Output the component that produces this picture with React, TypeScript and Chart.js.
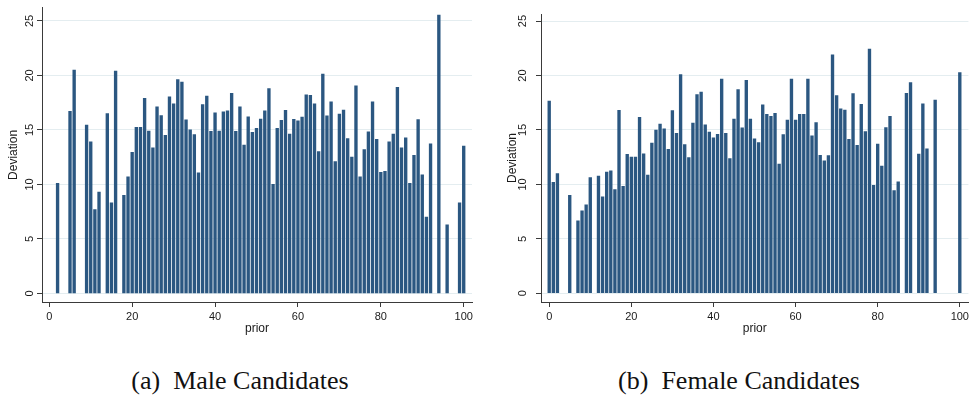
import React, { useEffect, useRef } from 'react';
import { Chart, registerables } from 'chart.js';

Chart.register(...registerables);

// ---- data ----
const maleX = [2, 5, 6, 9, 10, 11, 12, 14, 15, 16, 18, 19, 20, 21, 22, 23, 24, 25, 26, 27, 28, 29, 30, 31, 32, 33, 34, 35, 36, 37, 38, 39, 40, 41, 42, 43, 44, 45, 46, 47, 48, 49, 50, 51, 52, 53, 54, 55, 56, 57, 58, 59, 60, 61, 62, 63, 64, 65, 66, 67, 68, 69, 70, 71, 72, 73, 74, 75, 76, 77, 78, 79, 80, 81, 82, 83, 84, 85, 86, 87, 88, 89, 90, 91, 92, 94, 96, 99, 100];
const maleY = [10.1, 16.7, 20.5, 15.45, 13.9, 7.7, 9.3, 16.5, 8.3, 20.4, 9.0, 10.7, 12.95, 15.25, 15.25, 17.9, 14.9, 13.37, 17.13, 16.32, 14.5, 18.05, 17.4, 19.62, 19.4, 15.93, 15.02, 14.58, 11.06, 17.32, 18.1, 14.88, 16.58, 14.9, 16.67, 16.75, 18.35, 14.88, 17.12, 13.62, 16.2, 14.77, 15.15, 16.0, 16.75, 18.8, 10.0, 15.15, 15.88, 16.8, 14.62, 15.98, 15.83, 16.18, 18.22, 18.18, 17.4, 13.02, 20.12, 16.3, 17.57, 12.1, 16.45, 16.82, 14.2, 12.5, 19.06, 10.7, 13.2, 14.82, 17.58, 14.15, 11.1, 11.2, 13.9, 14.62, 18.9, 13.37, 14.28, 10.1, 12.68, 15.95, 10.87, 7.0, 13.72, 25.55, 6.3, 8.3, 13.52];

const femaleX = [0, 1, 2, 5, 7, 8, 9, 10, 12, 13, 14, 15, 16, 17, 18, 19, 20, 21, 22, 23, 24, 25, 26, 27, 28, 29, 30, 31, 32, 33, 34, 35, 36, 37, 38, 39, 40, 41, 42, 43, 44, 45, 46, 47, 48, 49, 50, 51, 52, 53, 54, 55, 56, 57, 58, 59, 60, 61, 62, 63, 64, 65, 66, 67, 68, 69, 70, 71, 72, 73, 74, 75, 76, 77, 78, 79, 80, 81, 82, 83, 84, 85, 87, 88, 90, 91, 92, 94, 100];
const femaleY = [17.66, 10.18, 11.0, 9.0, 6.65, 7.57, 8.13, 10.62, 10.77, 8.87, 11.13, 11.25, 9.53, 16.8, 9.82, 12.76, 12.52, 12.52, 16.17, 12.8, 10.86, 13.8, 14.98, 15.55, 15.1, 13.23, 16.77, 14.7, 20.09, 13.65, 12.46, 15.64, 18.25, 18.49, 15.46, 14.8, 14.27, 14.6, 19.67, 14.69, 12.37, 16.0, 18.72, 15.19, 19.55, 16.0, 14.18, 13.83, 17.3, 16.44, 16.26, 16.53, 11.87, 14.57, 15.9, 19.67, 15.9, 16.44, 16.44, 19.67, 14.45, 15.67, 12.67, 12.17, 12.64, 21.9, 18.16, 16.94, 16.82, 14.15, 18.34, 13.59, 17.36, 14.84, 22.43, 9.91, 13.71, 11.69, 15.22, 16.26, 9.44, 10.24, 18.37, 19.35, 12.79, 17.39, 13.26, 17.74, 20.27];

const xTicks = [0, 20, 40, 60, 80, 100];
const yTicks = [0, 5, 10, 15, 20, 25];
const xTitle = 'prior';
const yTitle = 'Deviation';
const captionA = '(a)\u2002Male Candidates';
const captionB = '(b)\u2002Female Candidates';

// ---- styles ----
const BAR = '#2b5781';
const AXIS = '#3a3a3a';
const GRID = '#e4edf0';
const TXT = '#1a1a1a';
const SANS = "'Liberation Sans', Arial, sans-serif";

type Cfg = {
  left: number; width: number; height: number;
  pad: { left: number; right: number; top: number; bottom: number };
  yWidth: number; xHeight: number;
  xMin: number; xMax: number; yMin: number; yMax: number;
  yTickPad: number; yTitlePadTop: number;
};

function BarPanel({ xs, ys, cfg }: { xs: number[]; ys: number[]; cfg: Cfg }) {
  const ref = useRef<HTMLCanvasElement>(null);
  useEffect(() => {
    const chart = new Chart(ref.current as HTMLCanvasElement, {
      type: 'bar',
      data: {
        datasets: [{
          data: xs.map((x, i) => ({ x, y: ys[i] })),
          backgroundColor: BAR,
          borderWidth: 0,
          barThickness: 2.7,
        } as any],
      },
      options: {
        animation: false,
        responsive: false,
        events: [],
        layout: { padding: cfg.pad },
        plugins: { legend: { display: false }, tooltip: { enabled: false } },
        scales: {
          x: {
            type: 'linear',
            min: cfg.xMin,
            max: cfg.xMax,
            offset: false,
            afterBuildTicks: (s: any) => { s.ticks = xTicks.map((v) => ({ value: v })); },
            afterFit: (s: any) => { s.height = cfg.xHeight; },
            grid: { display: true, drawOnChartArea: false, drawTicks: true, tickLength: 5, tickColor: AXIS, offset: false },
            border: { display: true, color: AXIS, width: 1 },
            ticks: { font: { family: SANS, size: 11 }, color: TXT, padding: 3, maxRotation: 0, autoSkip: false },
            title: { display: true, text: xTitle, font: { family: SANS, size: 12 }, color: TXT, padding: { top: 0, bottom: 4 } },
          },
          y: {
            type: 'linear',
            min: cfg.yMin,
            max: cfg.yMax,
            afterBuildTicks: (s: any) => { s.ticks = yTicks.map((v) => ({ value: v })); },
            afterFit: (s: any) => { s.width = cfg.yWidth; },
            grid: { color: GRID, lineWidth: 1, drawTicks: true, tickLength: 5, tickColor: AXIS },
            border: { display: true, color: AXIS, width: 1 },
            ticks: { font: { family: SANS, size: 11 }, color: TXT, padding: cfg.yTickPad, minRotation: 90, maxRotation: 90, crossAlign: 'center' },
            title: { display: true, text: yTitle, font: { family: SANS, size: 12 }, color: TXT, padding: { top: cfg.yTitlePadTop, bottom: 0 } },
          },
        },
      } as any,
    });
    return () => chart.destroy();
  }, []);
  return (
    <canvas
      ref={ref}
      width={cfg.width}
      height={cfg.height}
      style={{ position: 'absolute', left: cfg.left, top: 0, width: cfg.width, height: cfg.height, display: 'block' }}
    />
  );
}

const leftCfg: Cfg = {
  left: 0, width: 478, height: 340,
  pad: { left: 6, right: 6, top: 5, bottom: 0 },
  yWidth: 36, xHeight: 38,
  xMin: -1.76, xMax: 102.0, yMin: -0.79, yMax: 26.21,
  yTickPad: 1.2, yTitlePadTop: 0.8,
};

const rightCfg: Cfg = {
  left: 500, width: 472, height: 340,
  pad: { left: 0, right: 1, top: 5, bottom: 0 },
  yWidth: 41, xHeight: 38,
  xMin: -2.0, xMax: 102.1, yMin: -0.8, yMax: 25.65,
  yTickPad: 7.4, yTitlePadTop: 5.8,
};

const captionStyle: React.CSSProperties = {
  position: 'absolute', top: 366, height: 30, lineHeight: '30px', textAlign: 'center',
  fontFamily: "'Liberation Serif', 'Times New Roman', serif", fontSize: 26, color: '#111', whiteSpace: 'pre',
};

export default function App() {
  return (
    <div style={{ position: 'fixed', left: 0, top: 0, width: 972, height: 396, background: '#fff', overflow: 'hidden' }}>
      <BarPanel xs={maleX} ys={maleY} cfg={leftCfg} />
      <BarPanel xs={femaleX} ys={femaleY} cfg={rightCfg} />
      <div style={{ ...captionStyle, left: 0, width: 480 }}>{captionA}</div>
      <div style={{ ...captionStyle, left: 500, width: 478 }}>{captionB}</div>
    </div>
  );
}
